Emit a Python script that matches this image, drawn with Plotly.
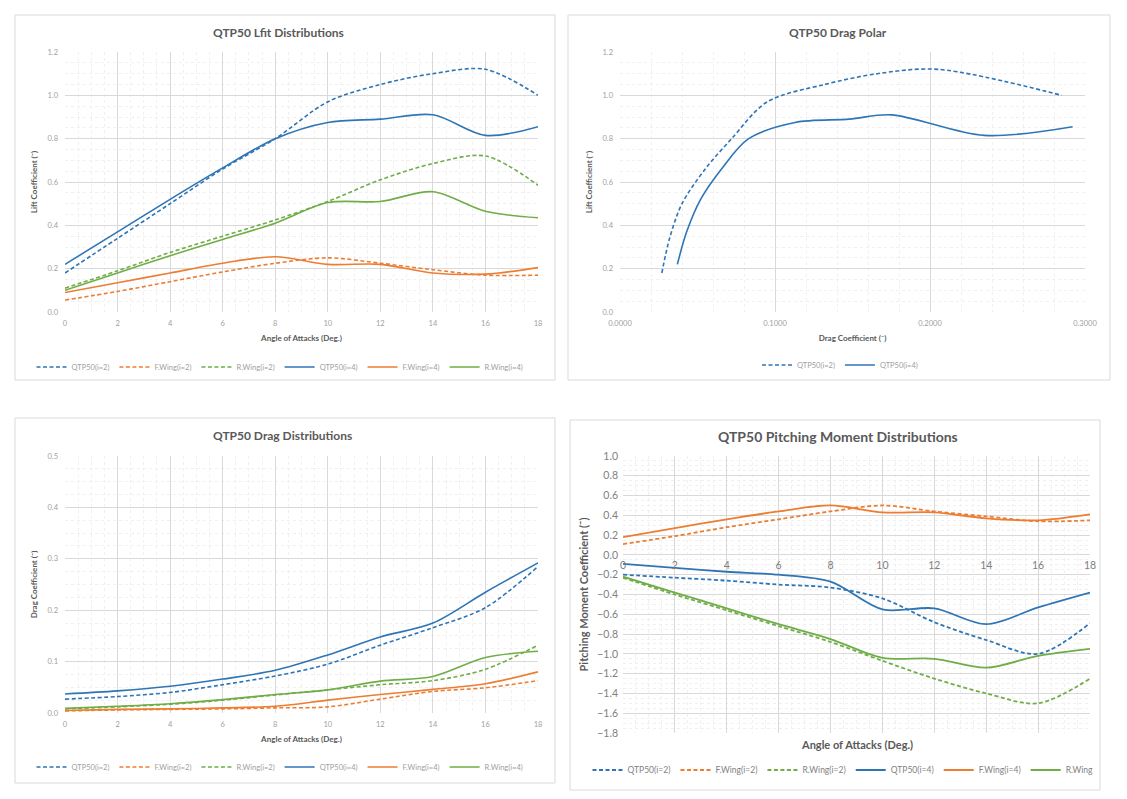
import plotly.graph_objects as go

# ---------------- data ----------------
aoa = [0, 2, 4, 6, 8, 10, 12, 14, 16, 18]

cl_qtp_i2 = [0.18, 0.34, 0.50, 0.66, 0.80, 0.97, 1.05, 1.10, 1.12, 1.00]
cl_fw_i2 = [0.055, 0.095, 0.14, 0.185, 0.225, 0.25, 0.225, 0.195, 0.17, 0.17]
cl_rw_i2 = [0.11, 0.19, 0.275, 0.35, 0.425, 0.51, 0.61, 0.685, 0.72, 0.585]
cl_qtp_i4 = [0.22, 0.37, 0.52, 0.665, 0.80, 0.875, 0.89, 0.91, 0.815, 0.855]
cl_fw_i4 = [0.09, 0.135, 0.18, 0.225, 0.255, 0.22, 0.22, 0.18, 0.175, 0.205]
cl_rw_i4 = [0.10, 0.18, 0.26, 0.335, 0.41, 0.505, 0.51, 0.555, 0.465, 0.435]

cd_qtp_i2 = [0.027, 0.032, 0.040, 0.055, 0.072, 0.095, 0.132, 0.166, 0.205, 0.285]
cd_fw_i2 = [0.004, 0.006, 0.007, 0.008, 0.010, 0.012, 0.027, 0.042, 0.049, 0.063]
cd_rw_i2 = [0.008, 0.012, 0.017, 0.025, 0.035, 0.045, 0.055, 0.063, 0.085, 0.132]
cd_qtp_i4 = [0.037, 0.043, 0.052, 0.066, 0.083, 0.113, 0.148, 0.175, 0.235, 0.292]
cd_fw_i4 = [0.005, 0.007, 0.008, 0.010, 0.013, 0.025, 0.036, 0.046, 0.057, 0.080]
cd_rw_i4 = [0.009, 0.013, 0.018, 0.026, 0.036, 0.045, 0.062, 0.071, 0.108, 0.120]

cm_qtp_i2 = [-0.20, -0.23, -0.26, -0.30, -0.33, -0.44, -0.68, -0.86, -1.00, -0.69]
cm_fw_i2 = [0.11, 0.19, 0.28, 0.36, 0.44, 0.50, 0.44, 0.39, 0.34, 0.35]
cm_rw_i2 = [-0.23, -0.40, -0.56, -0.72, -0.88, -1.07, -1.25, -1.40, -1.50, -1.25]
cm_qtp_i4 = [-0.09, -0.13, -0.17, -0.20, -0.27, -0.55, -0.54, -0.70, -0.53, -0.38]
cm_fw_i4 = [0.18, 0.27, 0.36, 0.44, 0.50, 0.43, 0.43, 0.37, 0.35, 0.41]
cm_rw_i4 = [-0.22, -0.38, -0.54, -0.70, -0.85, -1.04, -1.05, -1.14, -1.02, -0.95]

names_6 = ["QTP50(i=2)", "F.Wing(i=2)", "R.Wing(i=2)", "QTP50(i=4)", "F.Wing(i=4)", "R.Wing(i=4)"]
names_pm = ["QTP50(i=2)", "F.Wing(i=2)", "R.Wing(i=2)", "QTP50(i=4)", "F.Wing(i=4)", "R.Wing"]
names_polar = ["QTP50(i=2)", "QTP50(i=4)"]

# ---------------- styling ----------------
OFF = 8  # default page margin of the html body
W, H = 1127 - 2 * OFF, 799 - 2 * OFF
FONT = "Lato, 'Open Sans', sans-serif"
BLUE, ORANGE, GREEN = "#2E75B6", "#ED7D31", "#70AD47"
colors6 = [BLUE, ORANGE, GREEN, BLUE, ORANGE, GREEN]
DASH = "4px,2.5px"
dashes6 = [DASH, DASH, DASH, "solid", "solid", "solid"]
GRID = "#D9D9D9"
MINOR = "#F0F0F0"
TICKC = "#A0A0A0"
TITLEC = "#595959"


def fx(p):
    return (p - OFF) / W


def fy(p):
    return 1 - (p - OFF) / H


fig = go.Figure()

# panel pixel boxes (screen pixels): (left, right, top, bottom)
P1 = (65, 538, 52, 312)
P2 = (620, 1085, 52, 312)
P3 = (65, 538, 456, 713)
P4 = (623, 1090, 456, 733)


def add_lines(xs_list, ys_list, names, xa, ya, legend, width=1.6):
    for i, (xs, ys) in enumerate(zip(xs_list, ys_list)):
        fig.add_trace(go.Scatter(
            x=xs, y=ys, mode="lines", name=names[i],
            line=dict(color=colors6[i], dash=dashes6[i], width=width,
                      shape="spline", smoothing=0.9),
            xaxis=xa, yaxis=ya, legend=legend, showlegend=True))


add_lines([aoa] * 6, [cl_qtp_i2, cl_fw_i2, cl_rw_i2, cl_qtp_i4, cl_fw_i4, cl_rw_i4],
          names_6, "x", "y", "legend")
# polar
for nm, xs, ys, dsh in [(names_polar[0], cd_qtp_i2, cl_qtp_i2, DASH),
                        (names_polar[1], cd_qtp_i4, cl_qtp_i4, "solid")]:
    fig.add_trace(go.Scatter(x=xs, y=ys, mode="lines", name=nm,
                             line=dict(color=BLUE, dash=dsh, width=1.6, shape="spline", smoothing=0.9),
                             xaxis="x2", yaxis="y2", legend="legend2"))
add_lines([aoa] * 6, [cd_qtp_i2, cd_fw_i2, cd_rw_i2, cd_qtp_i4, cd_fw_i4, cd_rw_i4],
          names_6, "x3", "y3", "legend3")
add_lines([aoa] * 6, [cm_qtp_i2, cm_fw_i2, cm_rw_i2, cm_qtp_i4, cm_fw_i4, cm_rw_i4],
          names_pm, "x4", "y4", "legend4", width=1.8)


def axis_common(size=7.5, zeroline=False, color=TICKC):
    return dict(showgrid=True, gridcolor=GRID, gridwidth=1, zeroline=zeroline,
                zerolinecolor=GRID, zerolinewidth=1, automargin=False,
                showline=False, ticks="", tickfont=dict(size=size, color=color, family=FONT))


def ttl(text, size=8, standoff=8):
    return dict(text=f"<b>{text}</b>", font=dict(size=size, color=TITLEC, family=FONT), standoff=standoff)


fig.update_layout(
    xaxis=dict(**axis_common(), domain=[fx(P1[0]), fx(P1[1])], anchor="y", range=[0, 18],
               tickvals=aoa, ticklabelstandoff=5,
               minor=dict(showgrid=True, gridcolor=MINOR, dtick=0.5, griddash="dot"),
               title=ttl("Angle of Attacks (Deg.)")),
    yaxis=dict(**axis_common(), domain=[fy(P1[3]), fy(P1[2])], anchor="x", range=[0, 1.2],
               dtick=0.2, tickformat=".1f", ticklabelstandoff=6,
               minor=dict(showgrid=True, gridcolor=MINOR, dtick=0.05, griddash="dot"),
               title=ttl("Lift Coefficient (˜)")),
    xaxis2=dict(**axis_common(), domain=[fx(P2[0]), fx(P2[1])], anchor="y2", range=[0, 0.3],
                dtick=0.1, tickformat=".4f", ticklabelstandoff=5,
                minor=dict(showgrid=True, gridcolor=MINOR, dtick=0.02, griddash="dot"),
                title=ttl("Drag Coefficient (˜)")),
    yaxis2=dict(**axis_common(), domain=[fy(P2[3]), fy(P2[2])], anchor="x2", range=[0, 1.2],
                dtick=0.2, tickformat=".1f", ticklabelstandoff=6,
                minor=dict(showgrid=True, gridcolor=MINOR, dtick=0.05, griddash="dot"),
                title=ttl("Lift Coefficient (˜)")),
    xaxis3=dict(**axis_common(), domain=[fx(P3[0]), fx(P3[1])], anchor="y3", range=[0, 18],
                tickvals=aoa, ticklabelstandoff=5,
                minor=dict(showgrid=True, gridcolor=MINOR, dtick=0.5, griddash="dot"),
                title=ttl("Angle of Attacks (Deg.)")),
    yaxis3=dict(**axis_common(), domain=[fy(P3[3]), fy(P3[2])], anchor="x3", range=[0, 0.5],
                dtick=0.1, tickformat=".1f", ticklabelstandoff=6,
                minor=dict(showgrid=True, gridcolor=MINOR, dtick=0.025, griddash="dot"),
                title=ttl("Drag Coefficient (˜)")),
)

# panel 4: x axis crosses at y=0
y4lo, y4hi = -1.8, 1.0
zero_px = P4[2] + (y4hi - 0) / (y4hi - y4lo) * (P4[3] - P4[2])
fig.update_layout(
    xaxis4=dict(**axis_common(10.5, color="#808080"), domain=[fx(P4[0]), fx(P4[1])], anchor="free",
                position=fy(zero_px), range=[0, 18], tickvals=aoa, ticklabelstandoff=3,
                minor=dict(showgrid=True, gridcolor=MINOR, dtick=0.5, griddash="dot")),
    yaxis4=dict(**axis_common(10.5, zeroline=True, color="#808080"), domain=[fy(P4[3]), fy(P4[2])],
                anchor="x4", range=[y4lo, y4hi], dtick=0.2, tickformat=".1f", ticklabelstandoff=4,
                minor=dict(showgrid=True, gridcolor=MINOR, dtick=0.05, griddash="dot"),
                title=ttl("Pitching Moment Coefficient (˜)", size=11, standoff=6)),
)

# legends
leg_common = dict(orientation="h", xanchor="center", yanchor="middle", bgcolor="rgba(0,0,0,0)",
                  itemwidth=30, tracegroupgap=0)
fig.update_layout(
    legend=dict(**leg_common, x=fx(280), y=fy(367), font=dict(size=7.5, color=TICKC, family=FONT)),
    legend2=dict(**leg_common, x=fx(840), y=fy(365), font=dict(size=7.5, color=TICKC, family=FONT)),
    legend3=dict(**leg_common, x=fx(280), y=fy(767), font=dict(size=7.5, color=TICKC, family=FONT)),
    legend4=dict(**leg_common, x=fx(843), y=fy(770), font=dict(size=8.5, color="#7F7F7F", family=FONT)),
)

# panel borders
for (l, r, t, b) in [(15, 555, 15, 380), (568, 1110, 15, 380), (15, 555, 418, 783), (570, 1100, 420, 790)]:
    fig.add_shape(type="rect", xref="paper", yref="paper", x0=fx(l), x1=fx(r), y0=fy(b), y1=fy(t),
                  line=dict(color="#D9D9D9", width=1), fillcolor="rgba(0,0,0,0)", layer="below")

# titles
for txt, cx, cy, sz in [("QTP50 Lfit Distributions", 278, 32, 12),
                        ("QTP50 Drag Polar", 838, 33, 12),
                        ("QTP50 Drag Distributions", 282, 435, 12),
                        ("QTP50 Pitching Moment Distributions", 838, 436, 14)]:
    fig.add_annotation(text=f"<b>{txt}</b>", x=fx(cx), y=fy(cy), xref="paper", yref="paper",
                       showarrow=False, xanchor="center", yanchor="middle",
                       font=dict(size=sz, color=TITLEC, family=FONT))
# panel 4 x-axis title at bottom
fig.add_annotation(text="<b>Angle of Attacks (Deg.)</b>", x=fx((P4[0] + P4[1]) / 2), y=fy(744),
                   xref="paper", yref="paper", showarrow=False, xanchor="center", yanchor="middle",
                   font=dict(size=11, color=TITLEC, family=FONT))

fig.update_layout(width=W, height=H, margin=dict(l=0, r=0, t=0, b=0, autoexpand=False),
                  paper_bgcolor="white", plot_bgcolor="white", font=dict(family=FONT))

fig.write_html("out.html")
